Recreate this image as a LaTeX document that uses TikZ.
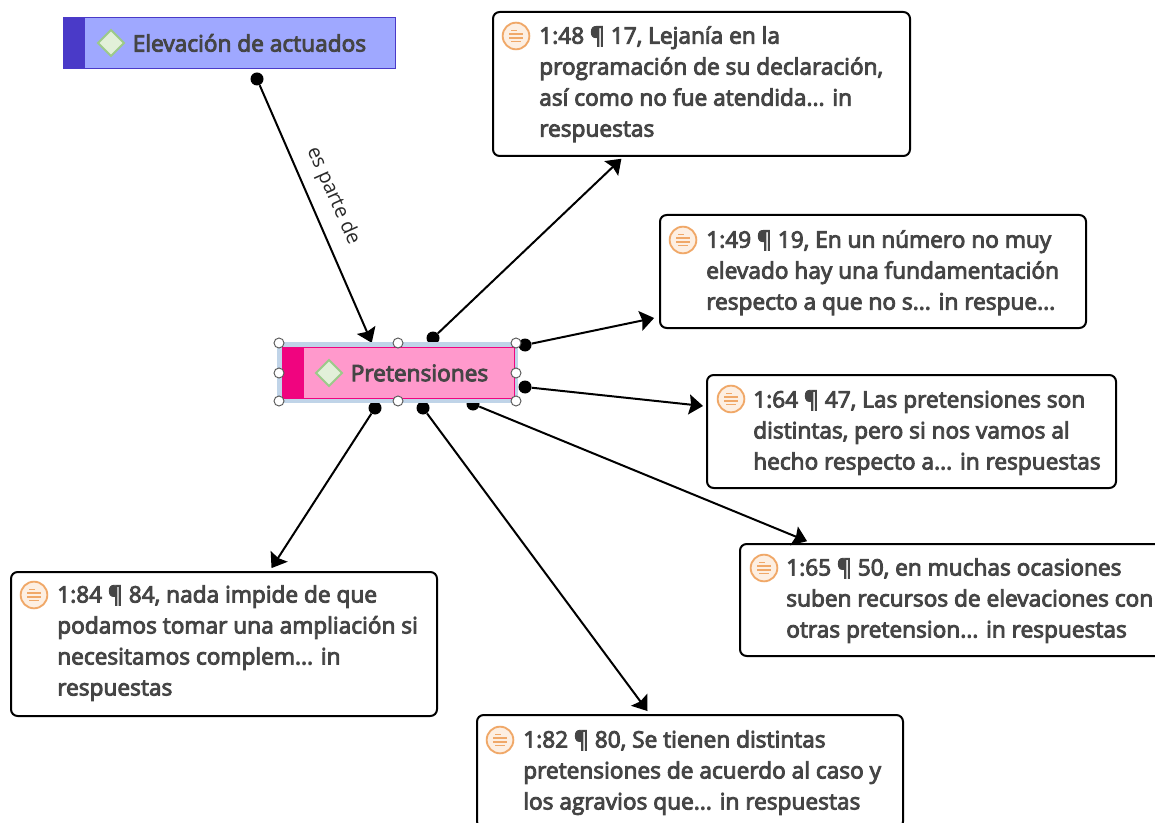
\documentclass[tikz,border=0pt]{standalone}
\usepackage{fontspec}
\setmainfont{Open Sans}
\newfontfamily\semifont[FakeBold=4]{Open Sans}
\usetikzlibrary{shapes.geometric,arrows.meta,calc,positioning,backgrounds}

\definecolor{inkgray}{HTML}{454545}
\definecolor{bluefill}{HTML}{9FA8FF}
\definecolor{bluedark}{HTML}{4A3AC8}
\definecolor{pinkfill}{HTML}{FF99CC}
\definecolor{pinkdark}{HTML}{F0047F}
\definecolor{selblue}{HTML}{C0D4E8}
\definecolor{leaffill}{HTML}{E2F0D9}
\definecolor{leafdraw}{HTML}{9CCA8A}
\definecolor{iconfill}{HTML}{FDEFE2}
\definecolor{icondraw}{HTML}{F0A868}

\tikzset{
  quotebox/.style={draw=black, line width=1.5pt, rounded corners=5pt, anchor=north west, inner sep=0pt, outer sep=0pt},
  quotetext/.style={anchor=north west, inner sep=0pt, align=left, text=inkgray, font=\semifont\fontsize{17}{23.25}\selectfont},
  quoteicon/.style={circle, draw=icondraw, fill=iconfill, line width=1.4pt, minimum size=20pt, inner sep=0pt,
    path picture={
      \draw[icondraw, line width=1pt] ($(path picture bounding box.center)+(-3.5pt,4.2pt)$) -- ++(4.5pt,0pt);
      \draw[icondraw, line width=1pt] ($(path picture bounding box.center)+(-5pt,1.4pt)$) -- ++(10pt,0pt);
      \draw[icondraw, line width=1pt] ($(path picture bounding box.center)+(-5pt,-1.4pt)$) -- ++(10pt,0pt);
      \draw[icondraw, line width=1pt] ($(path picture bounding box.center)+(-3.5pt,-4.2pt)$) -- ++(7pt,0pt);
    }},
  codetext/.style={anchor=west, inner sep=0pt, text=inkgray, font=\semifont\fontsize{17}{20}\selectfont},
  leaf/.style={diamond, draw=leafdraw, fill=leaffill, line width=1.4pt, minimum size=20pt, inner sep=0pt},
  handle/.style={circle, draw=black!65, fill=white, line width=.7pt, minimum size=7.5pt, inner sep=0pt},
  dotnode/.style={circle, fill=black, minimum size=9.75pt, inner sep=0pt},
  link/.style={draw=black, line width=1.5pt, -{Stealth[length=10.5pt,width=15pt,inset=1.5pt]}}
}

\begin{document}
\begin{tikzpicture}[x=0.75pt,y=-0.75pt]
  \useasboundingbox (0,0) rectangle (1155,823);

  % code boxes
  \node [draw=bluedark, fill=bluefill, line width=1pt, anchor=north west, inner sep=0pt, outer sep=0pt, minimum width=248.75pt, minimum height=38pt,
    path picture={\fill[bluedark] (path picture bounding box.north west) rectangle ++(15.75pt,-39pt);}] at (63.6,17.6) (Elev) {};
  \node [leaf] at (111,43) (ElevLeaf) {};
  \node [codetext] at (132.5,43) (ElevText) {Elevación de actuados};

  \node [fill=selblue, anchor=north west, inner sep=0pt, outer sep=0pt, minimum width=180.75pt, minimum height=45.75pt] at (277,342) (Sel) {};
  \node [draw=pinkdark, fill=pinkfill, line width=1pt, anchor=north west, inner sep=0pt, outer sep=0pt, minimum width=173.75pt, minimum height=38.25pt,
    path picture={\fill[pinkdark] (path picture bounding box.north west) rectangle ++(15.75pt,-39pt);}] at (282.6,347.6) (Pret) {};
  \node [leaf] at (329,373) (PretLeaf) {};
  \node [codetext] at (350.5,373) (PretText) {Pretensiones};

  \node [handle] at (279,343) (H1) {};
  \node [handle] at (398,343) (H2) {};
  \node [handle] at (516,343) (H3) {};
  \node [handle] at (279,373) (H4) {};
  \node [handle] at (516,373) (H5) {};
  \node [handle] at (279,401) (H6) {};
  \node [handle] at (398,401) (H7) {};
  \node [handle] at (516,401) (H8) {};

  % quotes
  \node [quotebox, minimum width=312.75pt, minimum height=108pt] at (493,12) (Q48) {};
  \node [quoteicon] at (516,36) (I48) {};
  \node [quotetext] at (539,26) (T48) {1:48 ¶ 17, Lejanía en la\\programación de su declaración,\\así como no fue atendida... in\\respuestas};

  \node [quotebox, minimum width=319.5pt, minimum height=84.75pt] at (660,215) (Q49) {};
  \node [quoteicon] at (683,240) (I49) {};
  \node [quotetext] at (706,230) (T49) {1:49 ¶ 19, En un número no muy\\elevado hay una fundamentación\\respecto a que no s... in respue...};

  \node [quotebox, minimum width=306.75pt, minimum height=84.75pt] at (707,375) (Q64) {};
  \node [quoteicon] at (731,399) (I64) {};
  \node [quotetext] at (753,390) (T64) {1:64 ¶ 47, Las pretensiones son\\distintas, pero si nos vamos al\\hecho respecto a... in respuestas};

  \node [quotebox, minimum width=318.75pt, minimum height=84pt] at (740,544) (Q65) {};
  \node [quoteicon] at (764,568) (I65) {};
  \node [quotetext] at (786,558) (T65) {1:65 ¶ 50, en muchas ocasiones\\suben recursos de elevaciones con\\otras pretension... in respuestas};

  \node [quotebox, minimum width=319.5pt, minimum height=84.75pt] at (477,715) (Q82) {};
  \node [quoteicon] at (500,740) (I82) {};
  \node [quotetext] at (523,730) (T82) {1:82 ¶ 80, Se tienen distintas\\pretensiones de acuerdo al caso y\\los agravios que... in respuestas};

  \node [quotebox, minimum width=319.5pt, minimum height=108pt] at (11,572) (Q84) {};
  \node [quoteicon] at (34,595) (I84) {};
  \node [quotetext] at (57,585) (T84) {1:84 ¶ 84, nada impide de que\\podamos tomar una ampliación si\\necesitamos complem... in\\respuestas};

  \begin{scope}[on background layer]
    \node [dotnode] at (257,79) (D0) {};
    \node [dotnode] at (433,338) (D48) {};
    \node [dotnode] at (525,345) (D49) {};
    \node [dotnode] at (525,387) (D64) {};
    \node [dotnode] at (473,404) (D65) {};
    \node [dotnode] at (423,408) (D82) {};
    \node [dotnode] at (375,408) (D84) {};

    \draw [link, shorten >=3.9pt] (D0) -- (Pret.134);
    \draw [link, shorten >=3pt] (D48) -- (Q48.223.6);
    \draw [link, shorten >=4.5pt] (D49) -- (Q49.192.4);
    \draw [link, shorten >=3pt] (D64) -- (Q64.173.3);
    \draw [link, shorten >=5.5pt] (D65) -- (Q65.158.1);
    \draw [link, shorten >=3.7pt] (D82) -- (Q82.125.4);
    \draw [link, shorten >=3.5pt] (D84) -- (Q84.58.1);
  \end{scope}

  \node [rotate=-66, inner sep=0pt, text=inkgray!60!black, font=\fontsize{15}{18}\selectfont] at (333,196) (Lab) {es parte de};

\end{tikzpicture}
\end{document}
